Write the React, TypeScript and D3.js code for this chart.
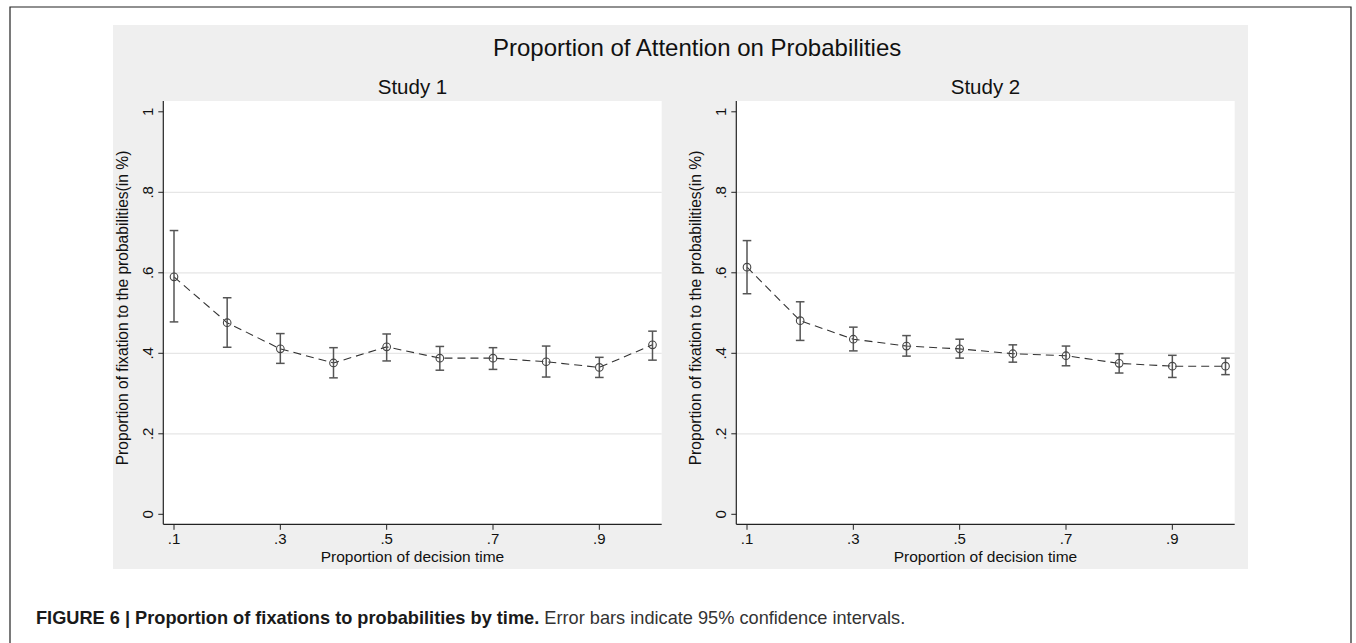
import React from 'react';
import * as d3 from 'd3';

// ---------- data ----------
const timePoints = [0.1, 0.2, 0.3, 0.4, 0.5, 0.6, 0.7, 0.8, 0.9, 1.0];

const study1Mean = [0.590, 0.476, 0.411, 0.376, 0.416, 0.388, 0.388, 0.379, 0.365, 0.421];
const study1Lower = [0.478, 0.415, 0.375, 0.339, 0.381, 0.358, 0.360, 0.341, 0.340, 0.383];
const study1Upper = [0.705, 0.538, 0.449, 0.414, 0.448, 0.417, 0.414, 0.418, 0.390, 0.455];

const study2Mean = [0.614, 0.481, 0.435, 0.418, 0.411, 0.399, 0.394, 0.375, 0.368, 0.368];
const study2Lower = [0.548, 0.432, 0.406, 0.393, 0.388, 0.378, 0.369, 0.351, 0.340, 0.347];
const study2Upper = [0.680, 0.528, 0.465, 0.444, 0.435, 0.421, 0.418, 0.399, 0.395, 0.388];

const xTickValues = [0.1, 0.3, 0.5, 0.7, 0.9];
const xTickLabels = ['.1', '.3', '.5', '.7', '.9'];
const yTickValues = [0, 0.2, 0.4, 0.6, 0.8, 1];
const yTickLabels = ['0', '.2', '.4', '.6', '.8', '1'];
const gridValues = [0.2, 0.4, 0.6, 0.8];

const panelTitles = ['Study 1', 'Study 2'];
const mainTitle = 'Proportion of Attention on Probabilities';
const yAxisTitle = 'Proportion of fixation to the probabilities(in %)';
const xAxisTitle = 'Proportion of decision time';
const captionBold = 'FIGURE 6 | Proportion of fixations to probabilities by time.';
const captionRest = ' Error bars indicate 95% confidence intervals.';

// ---------- layout ----------
const W = 1356;
const H = 643;
const FONT = "'Liberation Sans', Arial, Helvetica, sans-serif";

const PLOT_LEFT = 163.3;
const PLOT_RIGHT = 661.7;
const PLOT_TOP = 101;
const PLOT_BOTTOM = 524.3;
const PANEL_SHIFT = [0, 573];

type PanelProps = {
  shift: number;
  title: string;
  mean: number[];
  lower: number[];
  upper: number[];
};

function Panel({ shift, title, mean, lower, upper }: PanelProps) {
  const x = d3.scaleLinear().domain([0.1, 1.0]).range([174 + shift, 652.5 + shift]);
  const y = d3.scaleLinear().domain([0, 1]).range([514.3, 111.8]);
  const left = PLOT_LEFT + shift;
  const right = PLOT_RIGHT + shift;
  const cx = (left + right) / 2;

  const pts = timePoints.map((t, i) => [x(t), y(mean[i])] as [number, number]);
  const line = d3.line()(pts) || '';
  const capHalf = 4.3;

  return (
    <g>
      <rect x={left} y={PLOT_TOP} width={right - left} height={PLOT_BOTTOM - PLOT_TOP} fill="#ffffff" />
      {gridValues.map((g) => (
        <line key={'g' + g} x1={left} x2={right} y1={y(g)} y2={y(g)} stroke="#e6e6e6" strokeWidth={1.3} />
      ))}
      {/* y axis */}
      <line x1={left} x2={left} y1={PLOT_TOP} y2={PLOT_BOTTOM} stroke="#222" strokeWidth={1.2} />
      {yTickValues.map((v, i) => (
        <g key={'yt' + v}>
          <line x1={left - 5} x2={left} y1={y(v)} y2={y(v)} stroke="#222" strokeWidth={1} />
          <text
            transform={`translate(${left - 10},${y(v)}) rotate(-90)`}
            textAnchor="middle"
            fontFamily={FONT}
            fontSize={15}
            fill="#111"
          >
            {yTickLabels[i]}
          </text>
        </g>
      ))}
      {/* x axis */}
      <line x1={left} x2={right} y1={PLOT_BOTTOM} y2={PLOT_BOTTOM} stroke="#222" strokeWidth={1.2} />
      {xTickValues.map((v, i) => (
        <g key={'xt' + v}>
          <line x1={x(v)} x2={x(v)} y1={PLOT_BOTTOM} y2={PLOT_BOTTOM + 5.5} stroke="#222" strokeWidth={1} />
          <text x={x(v)} y={544} textAnchor="middle" fontFamily={FONT} fontSize={15} fill="#111">
            {xTickLabels[i]}
          </text>
        </g>
      ))}
      {/* titles */}
      <text x={cx} y={94} textAnchor="middle" fontFamily={FONT} fontSize={20.5} fill="#111">
        {title}
      </text>
      <text x={cx} y={561.5} textAnchor="middle" fontFamily={FONT} fontSize={15.5} fill="#111">
        {xAxisTitle}
      </text>
      <text
        transform={`translate(${128 + shift},${308}) rotate(-90)`}
        textAnchor="middle"
        fontFamily={FONT}
        fontSize={15.6}
        fill="#111"
      >
        {yAxisTitle}
      </text>
      {/* dashed connecting line */}
      <path d={line} fill="none" stroke="#333" strokeWidth={1.1} strokeDasharray="8,5" />
      {/* error bars */}
      {timePoints.map((t, i) => (
        <g key={'e' + t} stroke="#555" strokeWidth={1.5}>
          <line x1={x(t)} x2={x(t)} y1={y(lower[i])} y2={y(upper[i])} />
          <line x1={x(t) - capHalf} x2={x(t) + capHalf} y1={y(lower[i])} y2={y(lower[i])} />
          <line x1={x(t) - capHalf} x2={x(t) + capHalf} y1={y(upper[i])} y2={y(upper[i])} />
        </g>
      ))}
      {/* markers */}
      {timePoints.map((t, i) => (
        <circle key={'m' + t} cx={x(t)} cy={y(mean[i])} r={3.8} fill="none" stroke="#444" strokeWidth={1.1} />
      ))}
    </g>
  );
}

export default function App() {
  return (
    <svg
      width={W}
      height={H}
      viewBox={`0 0 ${W} ${H}`}
      style={{ position: 'absolute', left: 0, top: 0, display: 'block', background: '#fff' }}
    >
      <rect x={0} y={0} width={W} height={H} fill="#ffffff" />
      {/* outer figure frame */}
      <path d={`M10,${H + 2} V7 H1351 V${H + 2}`} fill="none" stroke="#222" strokeWidth={1.2} />
      {/* grey graph region */}
      <rect x={113} y={25} width={1248 - 113} height={569 - 25} fill="#efefef" />
      <text x={493} y={56} textAnchor="start" fontFamily={FONT} fontSize={24} fill="#111">
        {mainTitle}
      </text>
      <Panel shift={PANEL_SHIFT[0]} title={panelTitles[0]} mean={study1Mean} lower={study1Lower} upper={study1Upper} />
      <Panel shift={PANEL_SHIFT[1]} title={panelTitles[1]} mean={study2Mean} lower={study2Lower} upper={study2Upper} />
      {/* caption */}
      <text x={36} y={624} fontFamily={FONT} fontSize={18.2} fill="#333" xmlSpace="preserve">
        <tspan fontWeight="bold" fill="#1a1a1a">{captionBold}</tspan>
        <tspan>{captionRest}</tspan>
      </text>
    </svg>
  );
}
